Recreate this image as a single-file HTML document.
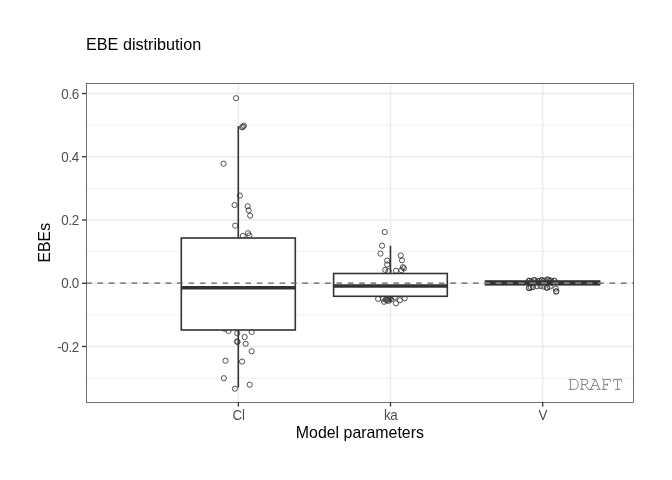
<!DOCTYPE html><html><head><meta charset="utf-8"><style>html,body{margin:0;padding:0;background:#fff;overflow:hidden}svg{display:block;will-change:transform}text{font-family:"Liberation Sans",sans-serif}</style></head><body>
<svg width="672" height="480" viewBox="0 0 672 480">
<rect width="672" height="480" fill="#fff"/>
<line x1="86.5" x2="633.5" y1="125.12" y2="125.12" stroke="#EBEBEB" stroke-width="0.8"/>
<line x1="86.5" x2="633.5" y1="188.38" y2="188.38" stroke="#EBEBEB" stroke-width="0.8"/>
<line x1="86.5" x2="633.5" y1="251.62" y2="251.62" stroke="#EBEBEB" stroke-width="0.8"/>
<line x1="86.5" x2="633.5" y1="314.88" y2="314.88" stroke="#EBEBEB" stroke-width="0.8"/>
<line x1="86.5" x2="633.5" y1="378.12" y2="378.12" stroke="#EBEBEB" stroke-width="0.8"/>
<line x1="86.5" x2="633.5" y1="93.50" y2="93.50" stroke="#EBEBEB" stroke-width="1.4"/>
<line x1="86.5" x2="633.5" y1="156.75" y2="156.75" stroke="#EBEBEB" stroke-width="1.4"/>
<line x1="86.5" x2="633.5" y1="220.00" y2="220.00" stroke="#EBEBEB" stroke-width="1.4"/>
<line x1="86.5" x2="633.5" y1="283.25" y2="283.25" stroke="#EBEBEB" stroke-width="1.4"/>
<line x1="86.5" x2="633.5" y1="346.50" y2="346.50" stroke="#EBEBEB" stroke-width="1.4"/>
<line x1="238.4" x2="238.4" y1="83.5" y2="402.5" stroke="#EBEBEB" stroke-width="1.4"/>
<line x1="390.5" x2="390.5" y1="83.5" y2="402.5" stroke="#EBEBEB" stroke-width="1.4"/>
<line x1="542.7" x2="542.7" y1="83.5" y2="402.5" stroke="#EBEBEB" stroke-width="1.4"/>
<circle cx="236.05" cy="98.20" r="2.6" fill="none" stroke="#333" stroke-width="0.85"/>
<circle cx="242.00" cy="127.40" r="2.6" fill="none" stroke="#333" stroke-width="0.85"/>
<circle cx="242.95" cy="126.55" r="2.6" fill="none" stroke="#333" stroke-width="0.85"/>
<circle cx="243.90" cy="125.70" r="2.6" fill="none" stroke="#333" stroke-width="0.85"/>
<circle cx="223.55" cy="163.70" r="2.6" fill="none" stroke="#333" stroke-width="0.85"/>
<circle cx="239.90" cy="195.55" r="2.6" fill="none" stroke="#333" stroke-width="0.85"/>
<circle cx="234.55" cy="205.05" r="2.6" fill="none" stroke="#333" stroke-width="0.85"/>
<circle cx="247.65" cy="206.30" r="2.6" fill="none" stroke="#333" stroke-width="0.85"/>
<circle cx="248.65" cy="210.30" r="2.6" fill="none" stroke="#333" stroke-width="0.85"/>
<circle cx="250.15" cy="215.70" r="2.6" fill="none" stroke="#333" stroke-width="0.85"/>
<circle cx="235.15" cy="225.70" r="2.6" fill="none" stroke="#333" stroke-width="0.85"/>
<circle cx="248.05" cy="233.20" r="2.6" fill="none" stroke="#333" stroke-width="0.85"/>
<circle cx="249.35" cy="235.50" r="2.6" fill="none" stroke="#333" stroke-width="0.85"/>
<circle cx="242.85" cy="235.90" r="2.6" fill="none" stroke="#333" stroke-width="0.85"/>
<circle cx="224.55" cy="328.80" r="2.6" fill="none" stroke="#333" stroke-width="0.85"/>
<circle cx="228.55" cy="331.00" r="2.6" fill="none" stroke="#333" stroke-width="0.85"/>
<circle cx="237.25" cy="333.30" r="2.6" fill="none" stroke="#333" stroke-width="0.85"/>
<circle cx="251.65" cy="332.00" r="2.6" fill="none" stroke="#333" stroke-width="0.85"/>
<circle cx="244.65" cy="337.00" r="2.6" fill="none" stroke="#333" stroke-width="0.85"/>
<circle cx="237.55" cy="342.00" r="2.6" fill="none" stroke="#333" stroke-width="0.85"/>
<circle cx="237.05" cy="341.50" r="2.6" fill="none" stroke="#333" stroke-width="0.85"/>
<circle cx="245.65" cy="343.80" r="2.6" fill="none" stroke="#333" stroke-width="0.85"/>
<circle cx="251.65" cy="351.20" r="2.6" fill="none" stroke="#333" stroke-width="0.85"/>
<circle cx="225.55" cy="360.70" r="2.6" fill="none" stroke="#333" stroke-width="0.85"/>
<circle cx="242.05" cy="361.55" r="2.6" fill="none" stroke="#333" stroke-width="0.85"/>
<circle cx="223.90" cy="378.20" r="2.6" fill="none" stroke="#333" stroke-width="0.85"/>
<circle cx="249.75" cy="384.70" r="2.6" fill="none" stroke="#333" stroke-width="0.85"/>
<circle cx="234.90" cy="388.70" r="2.6" fill="none" stroke="#333" stroke-width="0.85"/>
<circle cx="384.75" cy="232.05" r="2.6" fill="none" stroke="#333" stroke-width="0.85"/>
<circle cx="382.05" cy="245.70" r="2.6" fill="none" stroke="#333" stroke-width="0.85"/>
<circle cx="380.45" cy="253.60" r="2.6" fill="none" stroke="#333" stroke-width="0.85"/>
<circle cx="400.75" cy="255.50" r="2.6" fill="none" stroke="#333" stroke-width="0.85"/>
<circle cx="401.95" cy="260.30" r="2.6" fill="none" stroke="#333" stroke-width="0.85"/>
<circle cx="387.15" cy="260.60" r="2.6" fill="none" stroke="#333" stroke-width="0.85"/>
<circle cx="387.15" cy="264.50" r="2.6" fill="none" stroke="#333" stroke-width="0.85"/>
<circle cx="385.25" cy="269.90" r="2.6" fill="none" stroke="#333" stroke-width="0.85"/>
<circle cx="388.55" cy="271.10" r="2.6" fill="none" stroke="#333" stroke-width="0.85"/>
<circle cx="395.95" cy="270.80" r="2.6" fill="none" stroke="#333" stroke-width="0.85"/>
<circle cx="402.85" cy="267.20" r="2.6" fill="none" stroke="#333" stroke-width="0.85"/>
<circle cx="403.95" cy="268.30" r="2.6" fill="none" stroke="#333" stroke-width="0.85"/>
<circle cx="401.35" cy="270.20" r="2.6" fill="none" stroke="#333" stroke-width="0.85"/>
<circle cx="378.15" cy="298.90" r="2.6" fill="none" stroke="#333" stroke-width="0.85"/>
<circle cx="384.05" cy="301.80" r="2.6" fill="none" stroke="#333" stroke-width="0.85"/>
<circle cx="382.95" cy="298.80" r="2.6" fill="none" stroke="#333" stroke-width="0.85"/>
<circle cx="387.05" cy="300.00" r="2.6" fill="none" stroke="#333" stroke-width="0.85"/>
<circle cx="389.45" cy="298.80" r="2.6" fill="none" stroke="#333" stroke-width="0.85"/>
<circle cx="395.95" cy="303.30" r="2.6" fill="none" stroke="#333" stroke-width="0.85"/>
<circle cx="399.85" cy="300.30" r="2.6" fill="none" stroke="#333" stroke-width="0.85"/>
<circle cx="404.55" cy="298.30" r="2.6" fill="none" stroke="#333" stroke-width="0.85"/>
<circle cx="394.75" cy="297.30" r="2.6" fill="none" stroke="#333" stroke-width="0.85"/>
<circle cx="385.65" cy="299.70" r="2.6" fill="none" stroke="#333" stroke-width="0.85"/>
<circle cx="388.35" cy="300.90" r="2.6" fill="none" stroke="#333" stroke-width="0.85"/>
<circle cx="391.05" cy="299.20" r="2.6" fill="none" stroke="#333" stroke-width="0.85"/>
<circle cx="528.90" cy="280.70" r="2.6" fill="none" stroke="#333" stroke-width="0.85"/>
<circle cx="529.30" cy="280.90" r="2.6" fill="none" stroke="#333" stroke-width="0.85"/>
<circle cx="534.10" cy="280.00" r="2.6" fill="none" stroke="#333" stroke-width="0.85"/>
<circle cx="534.50" cy="280.30" r="2.6" fill="none" stroke="#333" stroke-width="0.85"/>
<circle cx="537.50" cy="280.80" r="2.6" fill="none" stroke="#333" stroke-width="0.85"/>
<circle cx="541.60" cy="280.00" r="2.6" fill="none" stroke="#333" stroke-width="0.85"/>
<circle cx="542.00" cy="280.40" r="2.6" fill="none" stroke="#333" stroke-width="0.85"/>
<circle cx="544.50" cy="280.60" r="2.6" fill="none" stroke="#333" stroke-width="0.85"/>
<circle cx="547.50" cy="279.40" r="2.6" fill="none" stroke="#333" stroke-width="0.85"/>
<circle cx="547.90" cy="279.80" r="2.6" fill="none" stroke="#333" stroke-width="0.85"/>
<circle cx="551.00" cy="280.50" r="2.6" fill="none" stroke="#333" stroke-width="0.85"/>
<circle cx="554.20" cy="280.70" r="2.6" fill="none" stroke="#333" stroke-width="0.85"/>
<circle cx="554.60" cy="281.00" r="2.6" fill="none" stroke="#333" stroke-width="0.85"/>
<circle cx="531.50" cy="281.20" r="2.6" fill="none" stroke="#333" stroke-width="0.85"/>
<circle cx="539.50" cy="281.00" r="2.6" fill="none" stroke="#333" stroke-width="0.85"/>
<circle cx="549.50" cy="280.80" r="2.6" fill="none" stroke="#333" stroke-width="0.85"/>
<circle cx="528.90" cy="288.20" r="2.6" fill="none" stroke="#333" stroke-width="0.85"/>
<circle cx="529.30" cy="287.90" r="2.6" fill="none" stroke="#333" stroke-width="0.85"/>
<circle cx="533.00" cy="287.10" r="2.6" fill="none" stroke="#333" stroke-width="0.85"/>
<circle cx="537.00" cy="286.20" r="2.6" fill="none" stroke="#333" stroke-width="0.85"/>
<circle cx="540.50" cy="286.00" r="2.6" fill="none" stroke="#333" stroke-width="0.85"/>
<circle cx="546.80" cy="287.90" r="2.6" fill="none" stroke="#333" stroke-width="0.85"/>
<circle cx="547.20" cy="287.50" r="2.6" fill="none" stroke="#333" stroke-width="0.85"/>
<circle cx="549.80" cy="286.70" r="2.6" fill="none" stroke="#333" stroke-width="0.85"/>
<circle cx="555.70" cy="288.60" r="2.6" fill="none" stroke="#333" stroke-width="0.85"/>
<circle cx="556.10" cy="291.60" r="2.6" fill="none" stroke="#333" stroke-width="0.85"/>
<circle cx="556.40" cy="291.20" r="2.6" fill="none" stroke="#333" stroke-width="0.85"/>
<circle cx="543.50" cy="286.50" r="2.6" fill="none" stroke="#333" stroke-width="0.85"/>
<circle cx="531.00" cy="287.50" r="2.6" fill="none" stroke="#333" stroke-width="0.85"/>
<line x1="238.3" x2="238.3" y1="238" y2="126.2" stroke="#333" stroke-width="1.6"/>
<line x1="238.3" x2="238.3" y1="330" y2="387.5" stroke="#333" stroke-width="1.6"/>
<rect x="181.3" y="238" width="114.00" height="92.00" fill="#fff" stroke="#333" stroke-width="1.6"/>
<line x1="181.3" x2="295.3" y1="287.75" y2="287.75" stroke="#333" stroke-width="3.3"/>
<line x1="390.45" x2="390.45" y1="273.5" y2="245.75" stroke="#333" stroke-width="1.6"/>
<line x1="390.45" x2="390.45" y1="296.3" y2="302.4" stroke="#333" stroke-width="1.6"/>
<rect x="333.6" y="273.5" width="113.70" height="22.80" fill="#fff" stroke="#333" stroke-width="1.6"/>
<line x1="333.6" x2="447.3" y1="286" y2="286" stroke="#333" stroke-width="3.3"/>
<rect x="484.7" y="280.2" width="115.7" height="5.4" fill="#333"/>
<line x1="86.05" x2="633.5" y1="283.2" y2="283.2" stroke="#5F5F5F" stroke-width="1.3" stroke-dasharray="5.69 5.69"/>
<clipPath id="vb"><rect x="485" y="280.2" width="115" height="5.4"/></clipPath>
<line clip-path="url(#vb)" x1="86.05" x2="633.5" y1="283.1" y2="283.1" stroke="#909090" stroke-width="1.3" stroke-dasharray="5.69 5.69"/>
<rect x="86.5" y="83.5" width="547.0" height="319.0" fill="none" stroke="#333" stroke-width="0.7"/>
<line x1="82" x2="86" y1="93.50" y2="93.50" stroke="#333" stroke-width="1.35"/>
<text transform="translate(79.0,98.50) scale(1,1.09)" text-anchor="end" font-size="13.4" letter-spacing="-0.3" fill="#4D4D4D">0.6</text>
<line x1="82" x2="86" y1="156.75" y2="156.75" stroke="#333" stroke-width="1.35"/>
<text transform="translate(79.0,161.75) scale(1,1.09)" text-anchor="end" font-size="13.4" letter-spacing="-0.3" fill="#4D4D4D">0.4</text>
<line x1="82" x2="86" y1="220.00" y2="220.00" stroke="#333" stroke-width="1.35"/>
<text transform="translate(79.0,225.00) scale(1,1.09)" text-anchor="end" font-size="13.4" letter-spacing="-0.3" fill="#4D4D4D">0.2</text>
<line x1="82" x2="86" y1="283.25" y2="283.25" stroke="#333" stroke-width="1.35"/>
<text transform="translate(79.0,288.25) scale(1,1.09)" text-anchor="end" font-size="13.4" letter-spacing="-0.3" fill="#4D4D4D">0.0</text>
<line x1="82" x2="86" y1="346.50" y2="346.50" stroke="#333" stroke-width="1.35"/>
<text transform="translate(79.0,351.50) scale(1,1.09)" text-anchor="end" font-size="13.4" letter-spacing="-0.3" fill="#4D4D4D">-0.2</text>
<line x1="238.4" x2="238.4" y1="402" y2="406.6" stroke="#333" stroke-width="1.3"/>
<text transform="translate(238.55,419.7) scale(1,1.07)" text-anchor="middle" font-size="13.4" letter-spacing="-0.3" fill="#4D4D4D">Cl</text>
<line x1="390.5" x2="390.5" y1="402" y2="406.6" stroke="#333" stroke-width="1.3"/>
<text transform="translate(390.65,419.7) scale(1,1.07)" text-anchor="middle" font-size="13.4" letter-spacing="-0.3" fill="#4D4D4D">ka</text>
<line x1="542.7" x2="542.7" y1="402" y2="406.6" stroke="#333" stroke-width="1.3"/>
<text transform="translate(542.85,419.7) scale(1,1.07)" text-anchor="middle" font-size="13.4" letter-spacing="-0.3" fill="#4D4D4D">V</text>
<text x="359.9" y="438" text-anchor="middle" font-size="15.9" fill="#000">Model parameters</text>
<text transform="translate(50,242.7) rotate(-90)" x="0" y="0" text-anchor="middle" font-size="15.8" fill="#000">EBEs</text>
<text x="86" y="50" font-size="16.2" fill="#000">EBE distribution</text>
<path fill="none" stroke="#7D7D7D" stroke-width="0.95" stroke-linecap="butt" stroke-linejoin="miter" d="M568.9,379.4 H574 Q578.2,379.4 578.2,384.4 Q578.2,389.4 574,389.4 H568.9 M570.6,379.4 V389.4 M580.1,379.4 H585 Q587.9,379.4 587.9,382 Q587.9,384.5 585,384.5 H581.85 M581.85,379.4 V389.4 M580.1,389.4 H583.9 M584.9,384.5 Q586.6,386.5 588.1,389.4 H589 M592.3,379.4 H595.6 L599.6,389.4 M595.4,379.4 L590.6,389.4 M592.3,385.6 H598.1 M588.5,389.4 H593.7 M596.7,389.4 H600.7 M602,379.4 H610.3 V381.9 M603.8,379.4 V389.4 M602,389.4 H607.2 M603.8,384.7 H607.4 M607.4,383.4 V386 M613.6,381.9 V379.4 H621.4 V381.9 M617.6,379.4 V389.4 M615,389.4 H620.4"/>
</svg></body></html>
